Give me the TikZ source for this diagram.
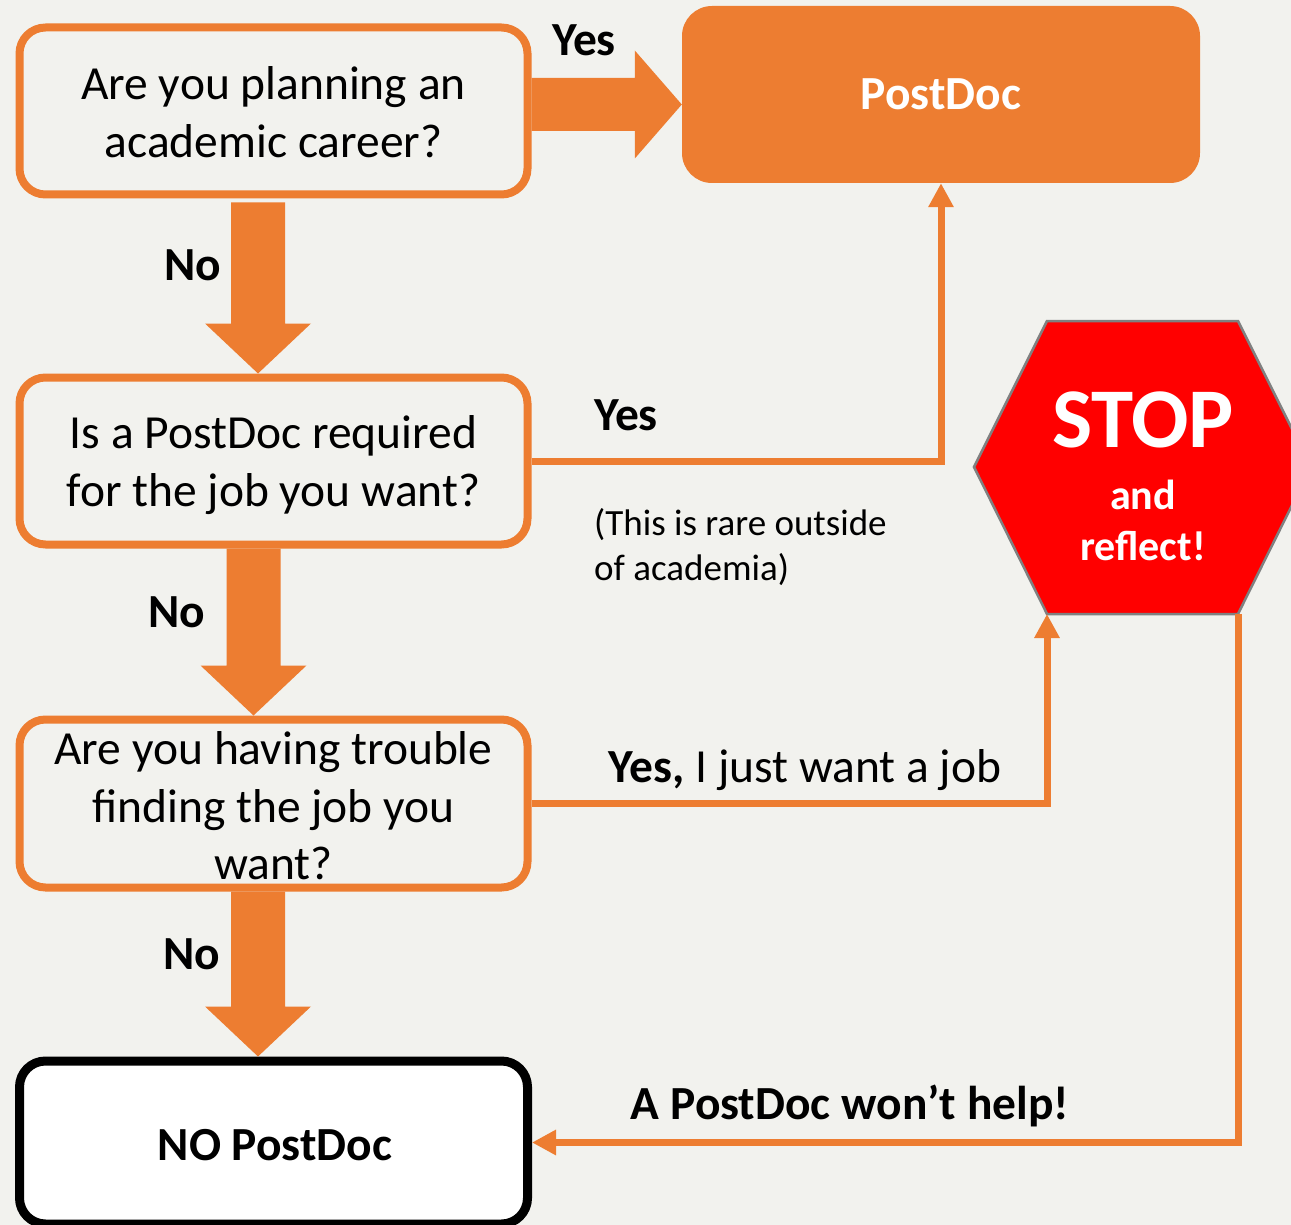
\documentclass[tikz,border=0pt]{standalone}
\usepackage{fontspec}
\setmainfont{Carlito}
\usetikzlibrary{calc,arrows.meta}
\definecolor{bg}{HTML}{F2F2EE}
\definecolor{orng}{HTML}{ED7D31}
\definecolor{stopred}{HTML}{FF0000}
\definecolor{stopgray}{HTML}{808080}
\newcommand\vblockarrow[2]{%
  \fill[orng] ($(#1)+(-27,0)$) -- ($(#1)+(27,0)$) -- ($(#2)+(27,-50)$) -- ($(#2)+(53,-50)$) -- (#2) -- ($(#2)+(-53,-50)$) -- ($(#2)+(-27,-50)$) -- cycle;}
\newcommand\hblockarrow[2]{%
  \fill[orng] ($(#1)+(0,-26.5)$) -- ($(#1)+(0,26.5)$) -- ($(#2)+(-47,26.5)$) -- ($(#2)+(-47,54)$) -- (#2) -- ($(#2)+(-47,-54)$) -- ($(#2)+(-47,-26.5)$) -- cycle;}
\tikzset{
  qbox/.style={draw=orng, line width=8pt, rounded corners=26pt, fill=bg,
    minimum width=508pt, minimum height=167pt, inner sep=0pt},
  qtext/.style={align=center, inner sep=0pt, font=\fontsize{47.5}{57.5}\selectfont},
  lbl/.style={font=\fontsize{47.5}{57}\selectfont\bfseries, inner sep=0pt},
  thinconn/.style={draw=orng, line width=7pt, -{Triangle[width=24pt,length=24pt]}},
}
\begin{document}
\begin{tikzpicture}[x=1pt,y=-1pt]
\useasboundingbox (0,0) rectangle (1291,1225);
\fill[bg] (0,0) rectangle (1291,1225);
% nodes
\node[qbox] (q1) at (273.5,111) {};
\node[qtext] (q1t) at ($(q1)+(0,1)$) {Are you planning an\\academic career?};
\node[qbox] (q2) at (273.5,461) {};
\node[qtext] (q2t) at ($(q2)+(0,4)$) {Is a PostDoc required\\for the job you want?};
\node[qbox, minimum height=168pt] (q3) at (273.5,803.5) {};
\node[qtext] (q3t) at ($(q3)+(0,2.5)$) {Are you having trouble\\finding the job you\\want?};
\node[qbox, draw=black, line width=9pt, fill=white, minimum height=163pt] (nopd) at (273.5,1142.5) {};
\node[lbl] (nopdt) at (275,1145) {NO PostDoc};
\node[fill=orng, rounded corners=30pt, minimum width=518pt, minimum height=177pt, inner sep=0pt,
  text=white, font=\fontsize{47.5}{57}\selectfont\bfseries] (post) at (941,94.5) {PostDoc};
% stop sign
\coordinate (stopTL) at (1047,321);
\coordinate (stopTR) at (1238,321);
\coordinate (stopR) at (1311,467);
\coordinate (stopBR) at (1238,614);
\coordinate (stopBL) at (1047,614);
\coordinate (stopL) at (974,467);
\filldraw[fill=stopred, draw=stopgray, line width=2.5pt] (stopTL) -- (stopTR) -- (stopR) -- (stopBR) -- (stopBL) -- (stopL) -- cycle;
\node[text=white, font=\fontsize{85}{90}\selectfont\bfseries, inner sep=0pt] (stoptxt) at (1143,420) {STOP};
\node[text=white, font=\fontsize{42}{51}\selectfont\bfseries, inner sep=0pt, align=center] (reflect) at (1143,520) {and\\reflect!};
% block arrows
\hblockarrow{$(q1.east)+(0,-6.5)$}{$(post.west)+(0,10)$}
\vblockarrow{$(q1.south)+(-15.5,4)$}{$(q2.north)+(-15.5,0)$}
\vblockarrow{$(q2.south)+(-20,0)$}{$(q3.north)+(-20,0)$}
\vblockarrow{$(q3.south)+(-15.5,0)$}{$(nopd.north)+(-15.5,0)$}
% thin connectors
\draw[thinconn] (q2.east) -| (post.south);
\draw[thinconn] (q3.east) -| (stopBL);
\draw[thinconn] (stopBR) |- (nopd.east);
% labels
\node[lbl] (l1) at (584,40) {Yes};
\node[lbl] (l2) at (193,265) {No};
\node[lbl] (l3) at (626,415) {Yes};
\node[anchor=west, align=left, inner sep=0pt, font=\fontsize{37}{45}\selectfont] (l4) at (594,547) {(This is rare outside\\of academia)};
\node[lbl] (l5) at (177,612) {No};
\node[font=\fontsize{47.5}{57}\selectfont, inner sep=0pt] (l6) at (805,770) {\textbf{Yes,} I just want a job};
\node[lbl] (l7) at (192,954) {No};
\node[lbl] (l8) at (850,1106) {A PostDoc won’t help!};
\end{tikzpicture}
\end{document}
